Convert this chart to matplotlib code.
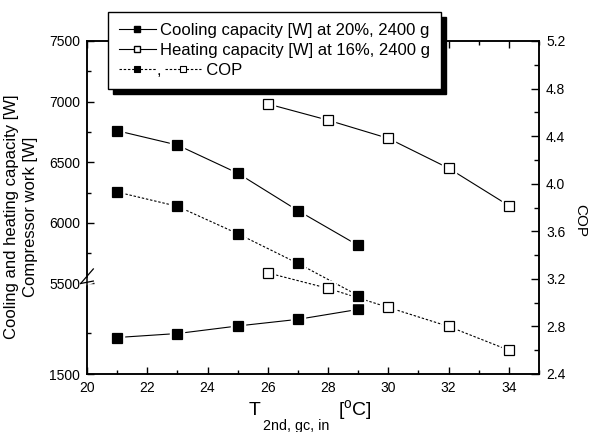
import numpy as np
import matplotlib
matplotlib.use("Agg")
import matplotlib.pyplot as plt
from matplotlib.ticker import FixedLocator, MultipleLocator, FormatStrFormatter
from matplotlib.lines import Line2D
from matplotlib.text import Text
from matplotlib.legend_handler import HandlerBase

plt.rcParams["font.family"] = ["Liberation Sans", "DejaVu Sans"]
plt.rcParams["mathtext.default"] = "regular"

# data
x_cool = [21, 23, 25, 27, 29]
cool_cap = [6760, 6642, 6410, 6101, 5814]
comp_work = [1940, 1988, 2079, 2159, 2279]
cop_cool = [3.93, 3.81, 3.58, 3.33, 3.06]

x_heat = [26, 28, 30, 32, 34]
heat_cap = [6981, 6847, 6697, 6451, 6142]
cop_heat = [3.25, 3.12, 2.96, 2.80, 2.60]

left_major = [1500, 5500, 6000, 6500, 7000, 7500]
left_minor = [2000, 5750, 6250, 6750, 7250]

# broken left axis: 1500..BRK_LO squeezed below BRK_HI..7500
BRK_LO, BRK_HI, SQ = 2590, 5500, 0.684
_xp = np.array([-1e5, BRK_LO, BRK_HI, 1e5])
_fp = np.array([BRK_HI - (BRK_LO + 1e5) * SQ, BRK_HI - 1.0, BRK_HI, 1e5])


def fwd(y):
    return np.interp(y, _xp, _fp)


def inv(y):
    return np.interp(y, _fp, _xp)


DOT = (0, (2.2, 1.6))
MS = 7
FAM = ["Liberation Sans", "DejaVu Sans"]


def draw_series(ax, x, y, filled, dashes):
    ax.plot(x, y, color="black", lw=0.8, linestyle=dashes, zorder=2)
    ax.plot(x, y, ls="none", marker="s", ms=MS + 3.5, mfc="white", mec="white", zorder=3)
    ax.plot(x, y, ls="none", marker="s", ms=MS, mfc="black" if filled else "white",
            mec="black", mew=0.9, zorder=4)


class CopHandler(HandlerBase):
    # two dotted handles separated by a comma, like the original legend
    def create_artists(self, legend, orig_handle, xdescent, ydescent, width, height,
                       fontsize, trans):
        y = height / 2 - ydescent
        gap = fontsize * 0.55
        out = []
        for i, fill in enumerate(("black", "white")):
            x0 = -xdescent + i * (width + gap)
            out.append(Line2D([x0, x0 + width], [y, y], color="black", lw=0.8,
                              linestyle=DOT, transform=trans))
            out.append(Line2D([x0 + width / 2], [y], ls="none", marker="s", ms=4.5,
                              mfc=fill, mec="black", mew=0.8, transform=trans))
        out.append(Text(-xdescent + width + gap * 0.1, y - fontsize * 0.1, ",",
                        fontsize=fontsize, va="center", transform=trans, family=FAM))
        return out


fig = plt.figure(figsize=(5.89, 4.32), dpi=100)
ax = fig.add_axes([87 / 589, 1 - 374 / 432, 452 / 589, 333 / 432])
ax.set_yscale("function", functions=(fwd, inv))
ax.set_ylim(1500, 7500)
ax.set_xlim(20, 35)

draw_series(ax, x_cool, cool_cap, True, "-")
draw_series(ax, x_heat, heat_cap, False, "-")
draw_series(ax, x_cool, comp_work, True, "-")

ax.yaxis.set_major_locator(FixedLocator(left_major))
ax.yaxis.set_minor_locator(FixedLocator(left_minor))
ax.yaxis.set_major_formatter(FormatStrFormatter("%d"))
ax.xaxis.set_major_locator(FixedLocator(range(20, 35, 2)))
ax.xaxis.set_minor_locator(MultipleLocator(1))
ax.tick_params(which="both", direction="in", top=True, labelsize=10, width=1)
ax.tick_params(which="major", length=5, pad=5)
ax.tick_params(which="minor", length=3)
for s in ax.spines.values():
    s.set_linewidth(1.1)

ax2 = ax.twinx()
ax2.set_ylim(2.4, 5.2)
draw_series(ax2, x_cool, cop_cool, True, DOT)
draw_series(ax2, x_heat, cop_heat, False, DOT)
ax2.yaxis.set_major_locator(MultipleLocator(0.4))
ax2.yaxis.set_minor_locator(MultipleLocator(0.2))
ax2.yaxis.set_major_formatter(FormatStrFormatter("%.1f"))
ax2.tick_params(which="both", direction="in", labelsize=10, width=1)
ax2.tick_params(which="major", length=5.5, pad=5)
ax2.tick_params(which="minor", length=3.5)
for s in ax2.spines.values():
    s.set_linewidth(1.1)

# axis break marks on the left spine
bt = ax.get_yaxis_transform()
ax.plot([-0.012, 0.012], [5480, 5530], transform=bt, color="white", lw=5,
        clip_on=False, zorder=6, solid_capstyle="butt")
for dy in (-60, 40):
    ax.plot([-0.014, 0.014], [5500 + dy - 80, 5500 + dy + 80], transform=bt,
            color="black", lw=0.9, clip_on=False, zorder=7)

# x label built from pieces so the subscript sits low like the original
fig.text(249 / 589, 1 - 415 / 432, "T", fontsize=14, va="baseline", ha="left")
fig.text(263 / 589, 1 - 430 / 432, "2nd, gc, in", fontsize=10.3, va="baseline", ha="left")
fig.text(338 / 589, 1 - 415 / 432, r"[$^{o}$C]", fontsize=14, va="baseline", ha="left")

fig.text(21 / 589, 1 - 217 / 432, "Cooling and heating capacity [W]\nCompressor work [W]",
         rotation=90, ha="center", va="center", fontsize=12, multialignment="center",
         linespacing=1.3)
fig.text(580 / 589, 1 - 221 / 432, "COP", rotation=270, ha="center", va="center",
         fontsize=11)

h_cool = Line2D([], [], color="black", lw=0.8, marker="s", ms=4.5, mfc="black", mec="black")
h_heat = Line2D([], [], color="black", lw=0.8, marker="s", ms=4.5, mfc="white", mec="black")
h_cop = (Line2D([], [], linestyle=DOT), Line2D([], [], linestyle=DOT))
leg = ax2.legend([h_cool, h_heat, h_cop],
                 ["Cooling capacity [W] at 20%, 2400 g",
                  "Heating capacity [W] at 16%, 2400 g",
                  "          COP"],
                 handler_map={tuple: CopHandler()},
                 loc="upper left", bbox_to_anchor=(21 / 452, (374 - 12) / 333),
                 borderaxespad=0, fontsize=12, handlelength=2.2, handletextpad=0.3,
                 labelspacing=0.3, borderpad=0.65, fancybox=False, framealpha=1,
                 edgecolor="black",
                 shadow={"ox": 3.6, "oy": -3.6, "color": "black", "alpha": 1})
leg.get_frame().set_linewidth(1.0)

fig.savefig("out.png", dpi=100)
